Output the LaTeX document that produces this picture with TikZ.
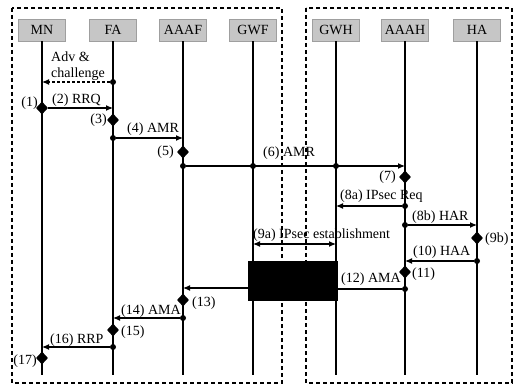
\documentclass[tikz,border=0pt]{standalone}
\usepackage{fontspec}
\setmainfont{Liberation Serif}
\usetikzlibrary{shapes.geometric,arrows.meta}
\begin{document}
\begin{tikzpicture}[x=1pt,y=-1pt, font=\fontsize{14}{16}\selectfont,
 frame/.style={draw, line width=1.5pt, dash pattern=on 4pt off 3pt},
 hdr/.style={draw=gray!75, fill=gray!45, minimum width=47pt, minimum height=22pt, inner sep=0pt},
 life/.style={line width=1.1pt},
 msg/.style={line width=1.1pt, -{Latex[length=7pt,width=6pt]}},
 dmsg/.style={msg, dash pattern=on 3pt off 2pt},
 bmsg/.style={line width=1.1pt, {Latex[length=7pt,width=6pt]}-{Latex[length=7pt,width=6pt]}},
 dia/.style={diamond, fill=black, inner sep=0pt, minimum width=12pt, minimum height=13pt},
 dot/.style={circle, fill=black, inner sep=0pt, minimum size=6pt},
 lbl/.style={inner sep=0pt},
 blk/.style={fill=black, draw=black}]
\useasboundingbox (0,0) rectangle (520,385);
% frames
\draw[frame] (12,8) rectangle (282,383);
\draw[frame] (306,8) rectangle (512,383);
% headers
\node[hdr] (MN) at (42,30) {MN};
\node[hdr] (FA) at (113,30) {FA};
\node[hdr] (AAAF) at (183,30) {AAAF};
\node[hdr] (GWF) at (253,30) {GWF};
\node[hdr] (GWH) at (336,30) {GWH};
\node[hdr] (AAAH) at (405,30) {AAAH};
\node[hdr] (HA) at (477,30) {HA};
% lifeline ends
\coordinate (MNe) at (42,375);
\coordinate (FAe) at (113,375);
\coordinate (AAAFe) at (183,375);
\coordinate (GWFe) at (253,375);
\coordinate (GWHe) at (336,375);
\coordinate (AAAHe) at (405,375);
\coordinate (HAe) at (477,375);
\foreach \n in {MN,FA,AAAF,GWF,GWH,AAAH,HA}
  \draw[life] (\n) -- (\n e);
% black box (9a)
\node[blk, minimum width=89pt, minimum height=39pt, inner sep=0pt] (box) at (292.5,280.5) {};
% Adv & challenge
\node[dot] (d0) at (113,82) {};
\coordinate (t0) at (42,82);
\draw[dmsg] (d0) -- (t0);
\node[lbl, anchor=base west] (l0a) at (51,62) {Adv \&};
\node[lbl, anchor=base west] (l0b) at (51,78) {challenge};
% (1)
\node[dia] (s1) at (42,108) {};
\node[lbl, anchor=base east] (l1) at (38,107) {(1)};
% (2) RRQ
\coordinate (t2) at (113,108);
\draw[msg] (s1) -- (t2);
\node[lbl, anchor=base west] (l2) at (52,104) {(2) RRQ};
% (3)
\node[dia] (s3) at (113,120) {};
\node[lbl, anchor=base east] (l3) at (107,124) {(3)};
% (4) AMR
\node[dot] (d4) at (113,138) {};
\coordinate (t4) at (183,138);
\draw[msg] (d4) -- (t4);
\node[lbl, anchor=base west] (l4) at (127,133) {(4) AMR};
% (5)
\node[dia] (s5) at (183,152) {};
\node[lbl, anchor=base east] (l5) at (174,156) {(5)};
% (6) AMR
\node[dot] (d6) at (183,166) {};
\node[dot] (d6g) at (253,166) {};
\node[dot] (d6h) at (336,166) {};
\coordinate (t6) at (405,166);
\draw[msg] (d6) -- (t6);
\node[lbl, anchor=base west] (l6) at (263,157) {(6) AMR};
% (7)
\node[dia] (s7) at (405,177) {};
\node[lbl, anchor=base east] (l7) at (396,181) {(7)};
% (8a)
\node[dot] (d8a) at (405,206) {};
\coordinate (t8a) at (336,206);
\draw[msg] (d8a) -- (t8a);
\node[lbl, anchor=base west] (l8a) at (340,200) {(8a) IPsec Req};
% (8b)
\node[dot] (d8b) at (405,225) {};
\coordinate (t8b) at (477,225);
\draw[msg] (d8b) -- (t8b);
\node[lbl, anchor=base west] (l8b) at (412,221) {(8b) HAR};
% (9b)
\node[dia] (s9b) at (477,238) {};
\node[lbl, anchor=base west] (l9b) at (485,243) {(9b)};
% (9a)
\coordinate (a9f) at (253,244);
\coordinate (a9h) at (336,244);
\draw[bmsg] (a9f) -- (a9h);
\node[lbl, anchor=base west] (l9a) at (253,239) {(9a) IPsec establishment};
% (10) HAA
\node[dot] (d10) at (477,261) {};
\coordinate (t10) at (405,261);
\draw[msg] (d10) -- (t10);
\node[lbl, anchor=base west] (l10) at (413,255) {(10) HAA};
% (11)
\node[dia] (s11) at (405,272) {};
\node[lbl, anchor=base west] (l11) at (412,277) {(11)};
% (12) AMA
\node[dot] (d12) at (405,289) {};
\coordinate (t12) at (337,289);
\draw[line width=1.1pt] (d12) -- (t12);
\node[lbl, anchor=base west] (l12) at (341,282) {(12) AMA};
\coordinate (f12) at (248,288);
\coordinate (t12b) at (183,288);
\draw[msg] (f12) -- (t12b);
% (13)
\node[dia] (s13) at (183,300) {};
\node[lbl, anchor=base west] (l13) at (192,306) {(13)};
% (14) AMA
\node[dot] (d14) at (183,318) {};
\coordinate (t14) at (113,318);
\draw[msg] (d14) -- (t14);
\node[lbl, anchor=base west] (l14) at (121,314) {(14) AMA};
% (15)
\node[dia] (s15) at (113,330) {};
\node[lbl, anchor=base west] (l15) at (121,335) {(15)};
% (16) RRP
\node[dot] (d16) at (113,347) {};
\coordinate (t16) at (42,347);
\draw[msg] (d16) -- (t16);
\node[lbl, anchor=base west] (l16) at (50,343) {(16) RRP};
% (17)
\node[dia] (s17) at (42,358) {};
\node[lbl, anchor=base east] (l17) at (37,364) {(17)};
\end{tikzpicture}
\end{document}
